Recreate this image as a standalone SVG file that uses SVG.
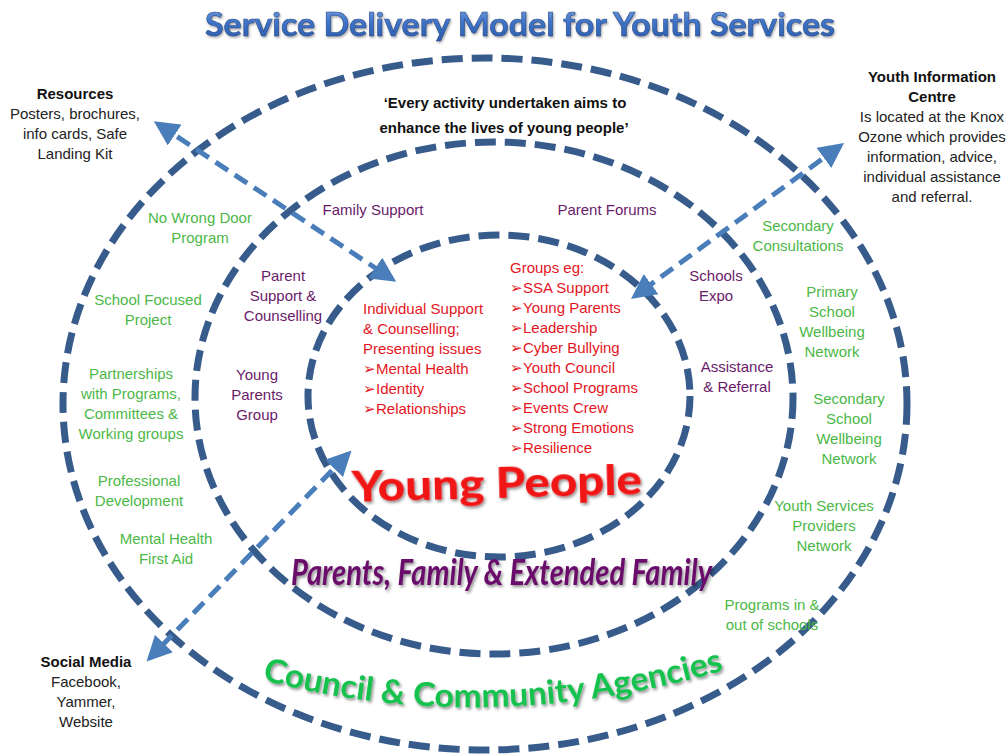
<svg xmlns="http://www.w3.org/2000/svg" width="1008" height="756" viewBox="0 0 1008 756">
<defs>
<linearGradient id="tg" x1="0" y1="0" x2="0" y2="1">
<stop offset="0" stop-color="#7fa8e0"/>
<stop offset="0.5" stop-color="#3d72c6"/>
<stop offset="1" stop-color="#2a5aa8"/>
</linearGradient>
<filter id="sh" x="-10%" y="-30%" width="120%" height="160%">
<feDropShadow dx="1.5" dy="2" stdDeviation="1.5" flood-color="#000" flood-opacity="0.45"/>
</filter>
<filter id="sh2" x="-10%" y="-30%" width="120%" height="160%">
<feDropShadow dx="1" dy="1.5" stdDeviation="1" flood-color="#4a4a4a" flood-opacity="0.5"/>
</filter>
<marker id="ah" viewBox="0 0 10 10" refX="8" refY="5" markerWidth="5" markerHeight="5" markerUnits="strokeWidth" orient="auto-start-reverse">
<path d="M0,0 L10,5 L0,10 Z" fill="#4a7ebb"/>
</marker>
<path id="arc" d="M 262,680 Q 490,740 732,668"/>
</defs>
<style>
.ring{fill:none;stroke:#375c8c;stroke-width:7;stroke-dasharray:21 9}
.arr{fill:none;stroke:#4a7ebb;stroke-width:5;stroke-dasharray:15 8;marker-start:url(#ah);marker-end:url(#ah)}
.t{font-family:"Liberation Sans",Arial,sans-serif;font-size:15px;text-anchor:middle}
.b{font-weight:bold;fill:#111}
.k{fill:#222}
.g{fill:#4cb848}
.p{fill:#6a1b6a}
.r{fill:#e3161e;text-anchor:start}
</style>
<g id="rings">
<ellipse id="outer" class="ring" cx="485" cy="404" rx="422" ry="346"/>
<ellipse id="middle" class="ring" cx="494" cy="398" rx="299" ry="256"/>
<ellipse id="inner" class="ring" cx="499" cy="396" rx="191" ry="161"/>
</g>
<g id="connectors">
<line class="arr" x1="158" y1="124" x2="392" y2="279"/>
<line class="arr" x1="840" y1="146" x2="635" y2="296"/>
<line class="arr" x1="348" y1="454" x2="150" y2="658"/>
</g>
<g id="title">
<text x="520" y="36" font-family="Lato,'Liberation Sans',sans-serif" font-weight="bold" font-size="33" text-anchor="middle" fill="url(#tg)" stroke="#2a4f8f" stroke-width="0.6" textLength="630" lengthAdjust="spacingAndGlyphs" filter="url(#sh2)">Service Delivery Model for Youth Services</text>
</g>
<g id="quote">
<text class="t b" x="505" y="108">‘Every activity undertaken aims to</text>
<text class="t b" x="504" y="133">enhance the lives of young people’</text>
</g>
<g id="resources">
<text class="t b" x="75" y="99">Resources</text>
<text class="t k" x="75" y="119">Posters, brochures,</text>
<text class="t k" x="75" y="139">info cards, Safe</text>
<text class="t k" x="75" y="159">Landing Kit</text>
</g>
<g id="youth-info">
<text class="t b" x="932" y="82">Youth Information</text>
<text class="t b" x="932" y="102">Centre</text>
<text class="t k" x="932" y="122">Is located at the Knox</text>
<text class="t k" x="932" y="142">Ozone which provides</text>
<text class="t k" x="932" y="162">information, advice,</text>
<text class="t k" x="932" y="182">individual assistance</text>
<text class="t k" x="932" y="202">and referral.</text>
</g>
<g id="social-media">
<text class="t b" x="86" y="667">Social Media</text>
<text class="t k" x="86" y="687">Facebook,</text>
<text class="t k" x="86" y="707">Yammer,</text>
<text class="t k" x="86" y="727">Website</text>
</g>
<g id="community-items">
<text class="t g" x="200" y="223">No Wrong Door</text>
<text class="t g" x="200" y="243">Program</text>
<text class="t g" x="148" y="305">School Focused</text>
<text class="t g" x="148" y="325">Project</text>
<text class="t g" x="131" y="379">Partnerships</text>
<text class="t g" x="131" y="399">with Programs,</text>
<text class="t g" x="131" y="419">Committees &amp;</text>
<text class="t g" x="131" y="439">Working groups</text>
<text class="t g" x="139" y="486">Professional</text>
<text class="t g" x="139" y="506">Development</text>
<text class="t g" x="166" y="544">Mental Health</text>
<text class="t g" x="166" y="564">First Aid</text>
<text class="t g" x="798" y="231">Secondary</text>
<text class="t g" x="798" y="251">Consultations</text>
<text class="t g" x="832" y="297">Primary</text>
<text class="t g" x="832" y="317">School</text>
<text class="t g" x="832" y="337">Wellbeing</text>
<text class="t g" x="832" y="357">Network</text>
<text class="t g" x="849" y="404">Secondary</text>
<text class="t g" x="849" y="424">School</text>
<text class="t g" x="849" y="444">Wellbeing</text>
<text class="t g" x="849" y="464">Network</text>
<text class="t g" x="824" y="511">Youth Services</text>
<text class="t g" x="824" y="531">Providers</text>
<text class="t g" x="824" y="551">Network</text>
<text class="t g" x="772" y="610">Programs in &amp;</text>
<text class="t g" x="772" y="630">out of schools</text>
</g>
<g id="family-items">
<text class="t p" x="373" y="215">Family Support</text>
<text class="t p" x="607" y="215">Parent Forums</text>
<text class="t p" x="283" y="281">Parent</text>
<text class="t p" x="283" y="301">Support &amp;</text>
<text class="t p" x="283" y="321">Counselling</text>
<text class="t p" x="257" y="380">Young</text>
<text class="t p" x="257" y="400">Parents</text>
<text class="t p" x="257" y="420">Group</text>
<text class="t p" x="716" y="281">Schools</text>
<text class="t p" x="716" y="301">Expo</text>
<text class="t p" x="737" y="372">Assistance</text>
<text class="t p" x="737" y="392">&amp; Referral</text>
</g>
<g id="young-people-items">
<text class="t r" x="363" y="314">Individual Support</text>
<text class="t r" x="363" y="334">&amp; Counselling;</text>
<text class="t r" x="363" y="354">Presenting issues</text>
<text class="t r" x="363" y="374">➢Mental Health</text>
<text class="t r" x="363" y="394">➢Identity</text>
<text class="t r" x="363" y="414">➢Relationships</text>
<text class="t r" x="510" y="273">Groups eg:</text>
<text class="t r" x="510" y="293">➢SSA Support</text>
<text class="t r" x="510" y="313">➢Young Parents</text>
<text class="t r" x="510" y="333">➢Leadership</text>
<text class="t r" x="510" y="353">➢Cyber Bullying</text>
<text class="t r" x="510" y="373">➢Youth Council</text>
<text class="t r" x="510" y="393">➢School Programs</text>
<text class="t r" x="510" y="413">➢Events Crew</text>
<text class="t r" x="510" y="433">➢Strong Emotions</text>
<text class="t r" x="510" y="453">➢Resilience</text>
</g>
<g id="ring-labels">
<text x="352" y="498" font-family="Lato,'Liberation Sans',sans-serif" font-weight="900" font-size="42" fill="#f01418" textLength="290" lengthAdjust="spacingAndGlyphs" transform="rotate(-1.5 498 490)" filter="url(#sh)">Young People</text>
<text x="291" y="585" font-family="Lato,'Liberation Sans',sans-serif" font-weight="bold" font-style="italic" font-size="37" fill="#6a0f6a" textLength="421" lengthAdjust="spacingAndGlyphs" filter="url(#sh)">Parents, Family &amp; Extended Family</text>
<text font-family="Lato,'Liberation Sans',sans-serif" font-weight="bold" font-size="33" fill="#14c24e" filter="url(#sh)"><textPath href="#arc" textLength="468" lengthAdjust="spacingAndGlyphs">Council &amp; Community Agencies</textPath></text>
</g>
</svg>
